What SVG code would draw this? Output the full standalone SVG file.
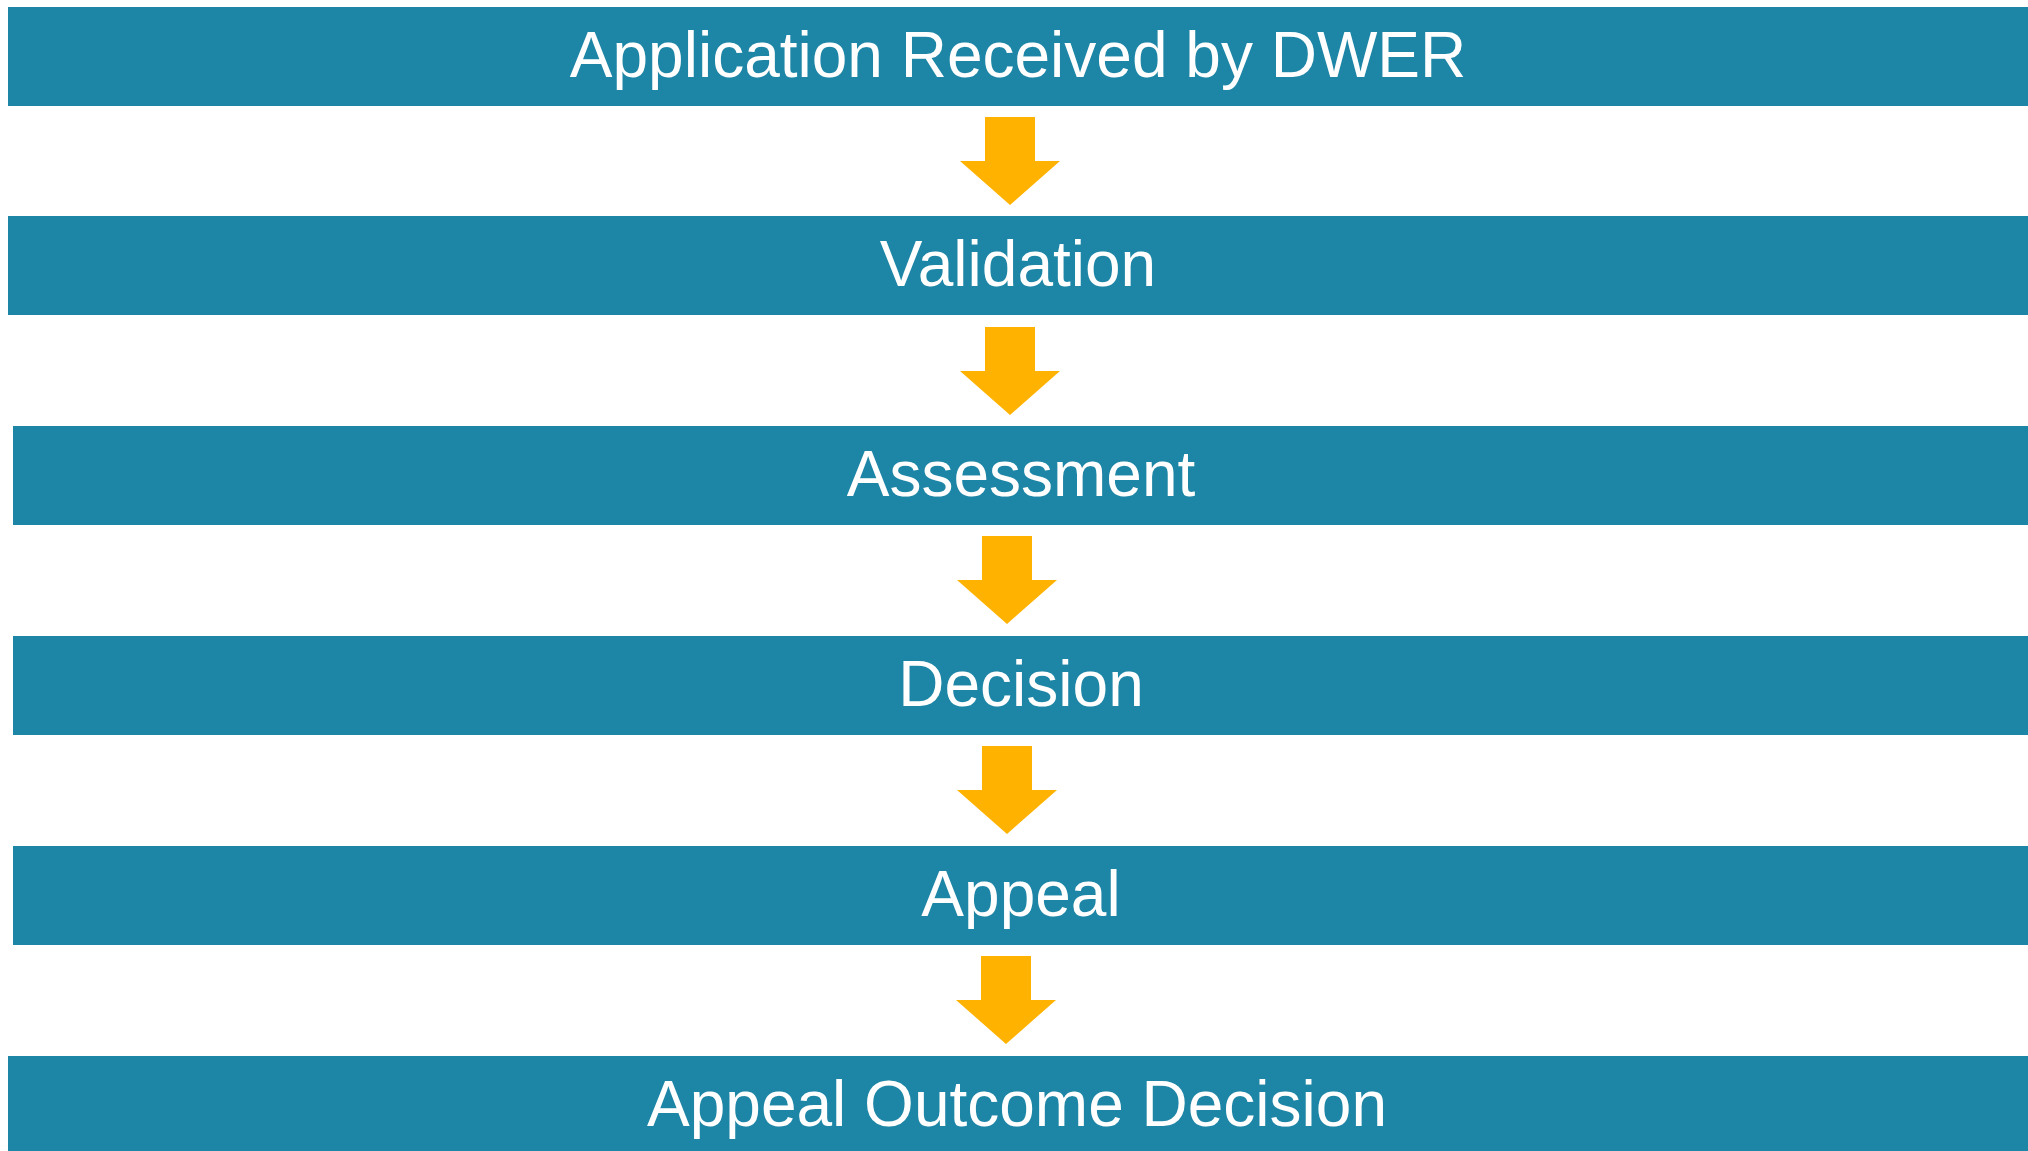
<svg xmlns="http://www.w3.org/2000/svg" width="2028" height="1151" viewBox="0 0 2028 1151">
  <style>
    .bar { fill: #1d85a5; }
    .label { fill: #ffffff; font-family: "Liberation Sans", Arial, sans-serif; font-size: 64px; text-anchor: middle; }
    .arrow { fill: #ffb300; }
  </style>
  <defs>
    <!-- block arrow pointing down, origin at top-centre of the shaft -->
    <polygon id="down" points="-25,0 25,0 25,44 50,44 0,88 -50,44 -25,44"/>
  </defs>
  <rect width="2028" height="1151" fill="#ffffff"/>

  <g id="step-received">
    <rect class="bar" x="8" y="7" width="2020" height="99"/>
    <text class="label" x="1018" y="77">Application Received by DWER</text>
  </g>
  <g id="step-validation">
    <rect class="bar" x="8" y="216" width="2020" height="99"/>
    <text class="label" x="1018" y="286">Validation</text>
  </g>
  <g id="step-assessment">
    <rect class="bar" x="13" y="426" width="2015" height="99"/>
    <text class="label" x="1021" y="496">Assessment</text>
  </g>
  <g id="step-decision">
    <rect class="bar" x="13" y="636" width="2015" height="99"/>
    <text class="label" x="1021" y="706">Decision</text>
  </g>
  <g id="step-appeal">
    <rect class="bar" x="13" y="846" width="2015" height="99"/>
    <text class="label" x="1021" y="916">Appeal</text>
  </g>
  <g id="step-appeal-outcome">
    <rect class="bar" x="8" y="1056" width="2020" height="99"/>
    <text class="label" x="1017" y="1126">Appeal Outcome Decision</text>
  </g>

  <g id="connectors">
    <use href="#down" class="arrow" x="1010" y="117"/>
    <use href="#down" class="arrow" x="1010" y="327"/>
    <use href="#down" class="arrow" x="1007" y="536"/>
    <use href="#down" class="arrow" x="1007" y="746"/>
    <use href="#down" class="arrow" x="1006" y="956"/>
  </g>
</svg>
